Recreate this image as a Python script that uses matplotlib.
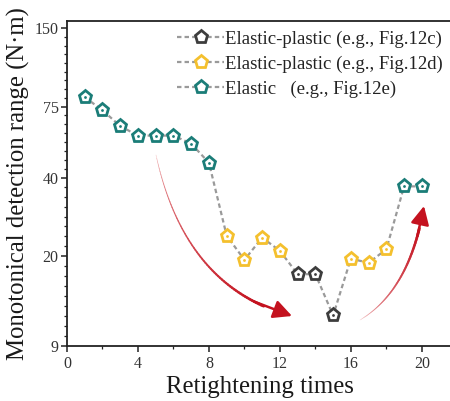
import numpy as np
import matplotlib
matplotlib.use("Agg")
import matplotlib.pyplot as plt
from matplotlib.collections import LineCollection
from matplotlib.patches import FancyArrowPatch

plt.rcParams['font.family'] = ['Liberation Serif', 'DejaVu Serif']

# ---- data ----
times = np.arange(1, 21)
torque = [81.5, 72.6, 63.1, 58.0, 58.0, 58.0, 54.0, 45.6, 23.9, 19.3,
          23.5, 20.9, 17.0, 17.0, 11.8, 19.5, 18.8, 21.2, 37.0, 37.0]
# category per point: 'c' elastic-plastic 12c, 'd' elastic-plastic 12d, 'e' elastic
category = ['e', 'e', 'e', 'e', 'e', 'e', 'e', 'e', 'd', 'd',
            'd', 'd', 'c', 'c', 'c', 'd', 'd', 'd', 'e', 'e']
series_keys = ['c', 'd', 'e']
series_labels = ['Elastic-plastic (e.g., Fig.12c)',
                 'Elastic-plastic (e.g., Fig.12d)',
                 'Elastic   (e.g., Fig.12e)']
series_colors = {'c': '#3d3d3d', 'd': '#f4c02e', 'e': '#1b7d78'}
y_major = [9, 20, 40, 75, 150]
x_major = [0, 4, 8, 12, 16, 20]

W, H = 450, 401
fig = plt.figure(figsize=(W / 100, H / 100), dpi=100)
ax = fig.add_axes([67 / W, (H - 346) / H, 385 / W, 325 / H])

ax.set_yscale('log')
ax.set_ylim(9, 160)
ax.set_xlim(0, 21.7)

# connecting dashed line
ax.plot(times, torque, color='#9a9a9a', lw=1.6, ls=(0, (2, 1.4)), zorder=2)

times_arr = np.array(times)
torque_arr = np.array(torque)
cat_arr = np.array(category)
for key, lab in zip(series_keys, series_labels):
    m = cat_arr == key
    col = series_colors[key]
    ax.plot(times_arr[m], torque_arr[m], ls='none', marker='p', ms=9.5,
            mfc='white', mec=col, mew=2.0, zorder=3)
    ax.plot(times_arr[m], torque_arr[m], ls='none', marker='o', ms=2.0,
            mfc=col, mec=col, mew=0, zorder=4)
    # legend proxy
    ax.plot([], [], color='#9a9a9a', lw=1.6, ls=(0, (2, 1.4)), marker='p',
            ms=9.5, mfc='white', mec=col, mew=2.0, label=lab)

# ---- curved gradient arrows (axes fraction coords) ----
def px2ax(px, py):
    return ((px - 67) / 385, (346 - py) / 325)

def grad_arrow(p0, p1, p2, c0, c1, gamma):
    P0, P1, P2 = [np.array(px2ax(*p)) for p in (p0, p1, p2)]
    t = np.linspace(0, 1, 80)[:, None]
    pts = (1 - t) ** 2 * P0 + 2 * (1 - t) * t * P1 + t ** 2 * P2
    n_end = 68
    seg_pts = pts[:n_end + 1]
    segs = np.stack([seg_pts[:-1], seg_pts[1:]], axis=1)
    f = np.linspace(0, 1, len(segs))
    c0 = np.array(matplotlib.colors.to_rgb(c0))
    c1 = np.array(matplotlib.colors.to_rgb(c1))
    cols = [tuple(c0 + (c1 - c0) * (v ** gamma)) for v in f]
    lws = 0.4 + 1.6 * f
    lc = LineCollection(segs, colors=cols, linewidths=lws,
                        transform=ax.transAxes, capstyle='round', zorder=1)
    ax.add_collection(lc)
    arr = FancyArrowPatch(tuple(pts[n_end - 4]), tuple(pts[-1]),
                          transform=ax.transAxes,
                          arrowstyle='-|>,head_length=0.8,head_width=0.4',
                          mutation_scale=14, color=c1, lw=1.8, zorder=1,
                          shrinkA=0, shrinkB=0)
    ax.add_patch(arr)

grad_arrow((156, 155), (185, 288), (292, 316), '#f6c9c9', '#c4121f', 0.45)
grad_arrow((360, 320), (410, 290), (424, 206), '#f8d3d3', '#c4121f', 0.6)

# ---- axes styling ----
ax.spines['right'].set_visible(False)
for s in ['left', 'bottom', 'top']:
    ax.spines[s].set_linewidth(1.3)
    ax.spines[s].set_color('#222222')

ax.set_yticks(y_major)
ax.set_yticklabels([str(v) for v in y_major])
minor = []
for a, b, n in [(9, 20, 9), (20, 40, 8), (40, 75, 8), (75, 150, 9), (150, 160, 1)]:
    g = np.geomspace(a, b, n + 1)[1:-1]
    minor.extend(g)
ax.set_yticks(minor, minor=True)
ax.yaxis.set_minor_formatter(matplotlib.ticker.NullFormatter())

ax.set_xticks(x_major)
ax.set_xticks(np.arange(2, 22, 4), minor=True)
ax.tick_params(axis='both', which='major', direction='out', length=4,
               width=1.1, labelsize=11.5, colors='#222222', labelcolor='#333333')
ax.tick_params(axis='both', which='minor', direction='out', length=2.2,
               width=0.9, colors='#222222')
ax.tick_params(axis='y', pad=2)
ax.tick_params(axis='x', pad=3)

ax.set_xlabel('Retightening times', fontsize=17.8, color='#1a1a1a', labelpad=3)
ax.set_ylabel('Monotonical detection range (N·m)', fontsize=17.8,
              color='#1a1a1a', labelpad=3)

leg = ax.legend(loc='upper right', frameon=False, fontsize=13.5,
                handlelength=2.5, handletextpad=0.05, labelspacing=0.42,
                borderaxespad=0.1, bbox_to_anchor=(1.0, 1.0))
for t in leg.get_texts():
    t.set_color('#222222')

fig.savefig('out.png', dpi=100)
